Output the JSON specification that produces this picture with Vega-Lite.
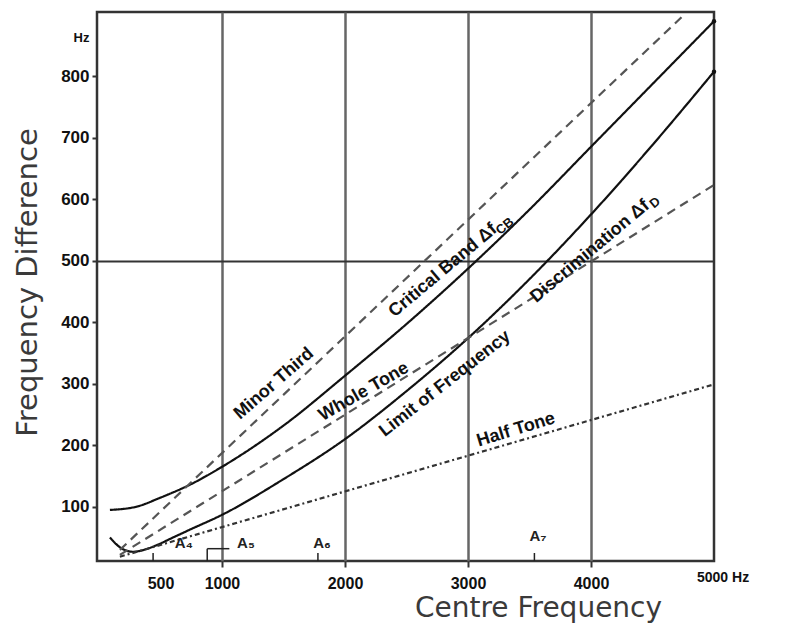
{
  "$schema": "https://vega.github.io/schema/vega-lite/v6.json",
  "width": 617,
  "height": 549,
  "autosize": {"type": "none"},
  "padding": {"left": 97, "top": 12, "right": 75, "bottom": 65},
  "background": "white",
  "config": {
    "view": {"stroke": "#333333", "strokeWidth": 2.5},
    "font": "Liberation Sans"
  },
  "datasets": {
    "curves": [
      {"curve": "CB", "f": 89, "d": 95},
      {"curve": "CB", "f": 300, "d": 100},
      {"curve": "CB", "f": 500, "d": 115},
      {"curve": "CB", "f": 750, "d": 137},
      {"curve": "CB", "f": 1000, "d": 165},
      {"curve": "CB", "f": 1500, "d": 232},
      {"curve": "CB", "f": 2000, "d": 313},
      {"curve": "CB", "f": 2500, "d": 397},
      {"curve": "CB", "f": 3000, "d": 487},
      {"curve": "CB", "f": 3500, "d": 583},
      {"curve": "CB", "f": 4000, "d": 685},
      {"curve": "CB", "f": 4500, "d": 787},
      {"curve": "CB", "f": 5000, "d": 889},
      {"curve": "DL", "f": 89, "d": 50},
      {"curve": "DL", "f": 180, "d": 33},
      {"curve": "DL", "f": 276, "d": 27},
      {"curve": "DL", "f": 380, "d": 31},
      {"curve": "DL", "f": 472, "d": 38},
      {"curve": "DL", "f": 600, "d": 50},
      {"curve": "DL", "f": 740, "d": 63},
      {"curve": "DL", "f": 1000, "d": 87},
      {"curve": "DL", "f": 1500, "d": 145},
      {"curve": "DL", "f": 2000, "d": 210},
      {"curve": "DL", "f": 2500, "d": 288},
      {"curve": "DL", "f": 3000, "d": 374},
      {"curve": "DL", "f": 3500, "d": 470},
      {"curve": "DL", "f": 4000, "d": 575},
      {"curve": "DL", "f": 4500, "d": 688},
      {"curve": "DL", "f": 5000, "d": 807},
      {"curve": "MT", "f": 170, "d": 30},
      {"curve": "MT", "f": 4760, "d": 900},
      {"curve": "WT", "f": 170, "d": 22},
      {"curve": "WT", "f": 5000, "d": 623},
      {"curve": "HT", "f": 170, "d": 19},
      {"curve": "HT", "f": 5000, "d": 299}
    ],
    "segments": [
      {"f": 440, "d": 12, "f2": 440, "d2": 25},
      {"f": 880, "d": 12, "f2": 880, "d2": 32},
      {"f": 880, "d": 32, "f2": 1060, "d2": 32},
      {"f": 1780, "d": 12, "f2": 1780, "d2": 25},
      {"f": 3540, "d": 12, "f2": 3540, "d2": 25}
    ],
    "notes": [
      {"label": "A₄", "f": 690, "d": 42},
      {"label": "A₅", "f": 1195, "d": 42},
      {"label": "A₆", "f": 1813, "d": 42},
      {"label": "A₇", "f": 3569, "d": 53}
    ]
  },
  "encoding": {
    "x": {
      "field": "f",
      "type": "quantitative",
      "scale": {"domain": [-16, 5000], "nice": false, "zero": false},
      "axis": {
        "title": "Centre Frequency",
        "values": [500, 1000, 2000, 3000, 4000, 5000],
        "format": "d",
        "labelExpr": "datum.value == 5000 ? '' : datum.label",
        "labelFont": "Liberation Sans",
        "labelFontSize": 16,
        "labelFontWeight": "bold",
        "labelColor": "#111111",
        "labelPadding": 8,
        "tickSize": 6,
        "tickWidth": 2,
        "tickColor": "#333333",
        "tickOpacity": {"condition": {"test": "datum.value == 500 || datum.value == 5000", "value": 0}, "value": 1},
        "domain": false,
        "grid": true,
        "gridColor": "#666666",
        "gridWidth": 2.5,
        "gridOpacity": {"condition": {"test": "datum.value == 500 || datum.value == 5000", "value": 0}, "value": 1},
        "titleFont": "DejaVu Sans",
        "titleFontSize": 28,
        "titleFontWeight": "normal",
        "titleColor": "#3a3a3a",
        "titleX": 441,
        "titleY": 47,
        "titleBaseline": "middle",
        "titleAlign": "center"
      }
    },
    "y": {
      "field": "d",
      "type": "quantitative",
      "scale": {"domain": [12, 904], "nice": false, "zero": false},
      "axis": {
        "title": "Frequency Difference",
        "values": [100, 200, 300, 400, 500, 600, 700, 800, 862],
        "labelExpr": "datum.value > 850 ? 'Hz' : datum.label",
        "labelFont": "Liberation Sans",
        "labelFontSize": {"condition": {"test": "datum.value > 850", "value": 13}, "value": 17},
        "labelFontWeight": "bold",
        "labelColor": "#111111",
        "labelPadding": 3,
        "tickSize": 5,
        "tickWidth": 2,
        "tickColor": "#333333",
        "tickOpacity": {"condition": {"test": "datum.value > 850", "value": 0}, "value": 1},
        "domain": false,
        "grid": true,
        "gridColor": "#333333",
        "gridWidth": 2,
        "gridOpacity": {"condition": {"test": "datum.value == 500", "value": 1}, "value": 0},
        "titleFont": "DejaVu Sans",
        "titleFontSize": 29,
        "titleFontWeight": "normal",
        "titleColor": "#3a3a3a",
        "titleX": -70,
        "titleY": 270,
        "titleAngle": -90,
        "titleBaseline": "middle",
        "titleAlign": "center"
      }
    }
  },
  "layer": [
    {
      "data": {"values": [
        {"f": 114}, {"f": 171}, {"f": 228}, {"f": 309}, {"f": 431}, {"f": 496},
        {"f": 577}, {"f": 642}, {"f": 715}, {"f": 780}, {"f": 846}, {"f": 903}
      ]},
      "mark": {"type": "rule", "color": "#333333", "strokeWidth": 1.5},
      "encoding": {
        "y": {"datum": 12, "type": "quantitative"},
        "y2": {"datum": 2}
      }
    },
    {
      "data": {"name": "curves"},
      "mark": {"type": "line", "interpolate": "monotone"},
      "encoding": {
        "detail": {"field": "curve"},
        "color": {"field": "curve", "type": "nominal", "legend": null,
          "scale": {"domain": ["CB", "DL", "MT", "WT", "HT"], "range": ["#111111", "#111111", "#555555", "#555555", "#333333"]}},
        "strokeDash": {"field": "curve", "type": "nominal", "legend": null,
          "scale": {"domain": ["CB", "DL", "MT", "WT", "HT"], "range": [[1, 0], [1, 0], [9, 6], [9, 6], [5, 3, 2, 3]]}},
        "strokeWidth": {"field": "curve", "type": "nominal", "legend": null,
          "scale": {"domain": ["CB", "DL", "MT", "WT", "HT"], "range": [2.2, 2.2, 1.5, 1.5, 1.5]}}
      }
    },
    {
      "data": {"values": [{"f": 5000, "d": 889}, {"f": 5000, "d": 807}]},
      "mark": {"type": "point", "filled": true, "size": 20, "color": "#111111", "opacity": 1}
    },
    {
      "data": {"name": "segments"},
      "mark": {"type": "rule", "color": "#222222", "strokeWidth": 1.5},
      "encoding": {
        "x2": {"field": "f2"},
        "y2": {"field": "d2"}
      }
    },
    {
      "data": {"name": "notes"},
      "mark": {"type": "text", "fontSize": 15, "fontWeight": "bold", "color": "#222222", "align": "center", "baseline": "middle"},
      "encoding": {"text": {"field": "label"}}
    },
    {
      "data": {"values": [{"label": "5000 Hz", "f": 5000, "d": -15}]},
      "mark": {"type": "text", "fontSize": 14, "fontWeight": "bold", "color": "#111111", "align": "left", "baseline": "middle", "dx": -17},
      "encoding": {"text": {"field": "label"}}
    },
    {
      "data": {"values": [{"label": "Minor Third", "f": 1423, "d": 300}]},
      "mark": {"type": "text", "fontSize": 18, "fontWeight": "bold", "color": "#111111", "align": "center", "baseline": "middle", "angle": -41},
      "encoding": {"text": {"field": "label"}}
    },
    {
      "data": {"values": [{"label": "Critical Band Δf", "f": 2797, "d": 484}]},
      "mark": {"type": "text", "fontSize": 18, "fontWeight": "bold", "color": "#111111", "align": "center", "baseline": "middle", "angle": -40},
      "encoding": {"text": {"field": "label"}}
    },
    {
      "data": {"values": [{"label": "CB", "f": 3300, "d": 556}]},
      "mark": {"type": "text", "fontSize": 13, "fontWeight": "bold", "color": "#111111", "align": "center", "baseline": "middle", "angle": -40},
      "encoding": {"text": {"field": "label"}}
    },
    {
      "data": {"values": [{"label": "Whole Tone", "f": 2154, "d": 287}]},
      "mark": {"type": "text", "fontSize": 18, "fontWeight": "bold", "color": "#111111", "align": "center", "baseline": "middle", "angle": -30},
      "encoding": {"text": {"field": "label"}}
    },
    {
      "data": {"values": [{"label": "Limit of Frequency", "f": 2813, "d": 300}]},
      "mark": {"type": "text", "fontSize": 18, "fontWeight": "bold", "color": "#111111", "align": "center", "baseline": "middle", "angle": -38},
      "encoding": {"text": {"field": "label"}}
    },
    {
      "data": {"values": [{"label": "Discrimination Δf", "f": 3992, "d": 515}]},
      "mark": {"type": "text", "fontSize": 18, "fontWeight": "bold", "color": "#111111", "align": "center", "baseline": "middle", "angle": -40},
      "encoding": {"text": {"field": "label"}}
    },
    {
      "data": {"values": [{"label": "D", "f": 4520, "d": 594}]},
      "mark": {"type": "text", "fontSize": 13, "fontWeight": "bold", "color": "#111111", "align": "center", "baseline": "middle", "angle": -40},
      "encoding": {"text": {"field": "label"}}
    },
    {
      "data": {"values": [{"label": "Half Tone", "f": 3390, "d": 225}]},
      "mark": {"type": "text", "fontSize": 18, "fontWeight": "bold", "color": "#111111", "align": "center", "baseline": "middle", "angle": -17},
      "encoding": {"text": {"field": "label"}}
    }
  ]
}
